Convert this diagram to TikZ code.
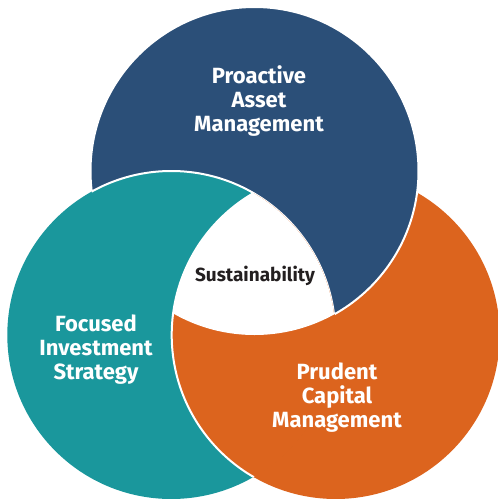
\documentclass[tikz,border=0pt]{standalone}
\usepackage{fontspec}
\setsansfont{Fira Sans}
\usetikzlibrary{positioning}

\definecolor{pamblue}{HTML}{2B4F78}
\definecolor{fisteal}{HTML}{1A979C}
\definecolor{pcmorange}{HTML}{DC641E}
\definecolor{sustext}{HTML}{231F20}

\begin{document}
\begin{tikzpicture}[x=1pt, y=-1pt,
  ring/.style={radius=164pt},
  gap/.style={draw=white, line width=2pt},
  label/.style={font=\sffamily\bfseries\fontsize{22}{24}\selectfont, text=white, align=center}]
\useasboundingbox (0,0) rectangle (498,499);

% Circle centres
\coordinate (pam) at (254.5,171);
\coordinate (fis) at (171.3,335);
\coordinate (pcm) at (335.7,335);

% Orange, then blue over it
\fill[pcmorange] (pcm) circle[ring];
\filldraw[pamblue, gap] (pam) circle[ring];

% Teal over blue
\fill[fisteal] (fis) circle[ring];
\begin{scope}
  \clip (pam) circle[ring];
  \draw[gap] (fis) circle[ring];
\end{scope}

% Orange over teal
\begin{scope}
  \clip (fis) circle[ring];
  \fill[pcmorange] (pcm) circle[ring];
\end{scope}
% hide the clip seam inside orange
\draw[pcmorange, line width=1.6pt] ([shift={(7.2:164pt)}]fis) arc[start angle=7.2, end angle=-59.9, radius=164pt];
\begin{scope}
  \clip (fis) circle[ring];
  \draw[gap] (pcm) circle[ring];
\end{scope}

% White centre
\begin{scope}
  \clip (pam) circle[ring];
  \clip (fis) circle[ring];
  \fill[white] (pcm) circle[ring];
\end{scope}

% Labels
\node[label] (pamtext) at (259,101) {Proactive\\Asset\\Management};
\node[label] (fistext) at (96,350) {Focused\\Investment\\Strategy};
\node[label] (pcmtext) at (337,398) {Prudent\\Capital\\Management};
\node[font=\sffamily\bfseries\fontsize{19}{22}\selectfont, text=sustext] (sustext) at (255,276) {Sustainability};
\end{tikzpicture}
\end{document}
